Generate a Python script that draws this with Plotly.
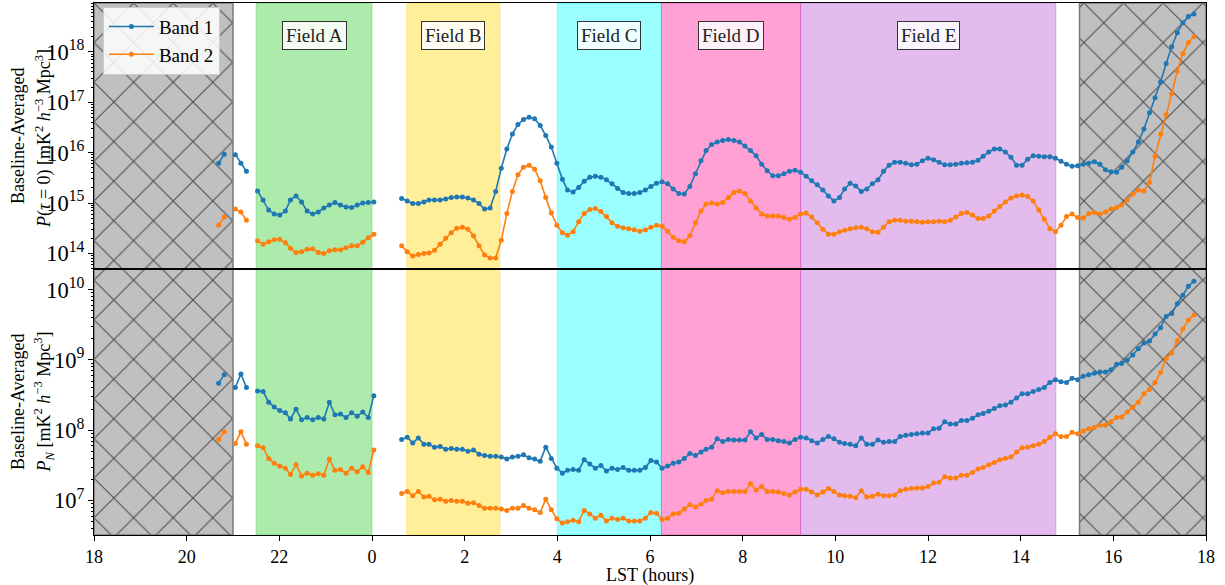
import plotly.graph_objects as go

# ---------------- data ----------------
# LST sample times in hours (wrapped 0-24)
lst_hours = [
    20.69, 20.81,
    21.05, 21.17, 21.29,
    21.53, 21.65, 21.77, 21.89, 22.01, 22.13, 22.24, 22.36, 22.48, 22.60, 22.72,
    22.84, 22.96, 23.08, 23.20, 23.32, 23.44, 23.56, 23.68, 23.80, 23.92, 0.04,
    0.64, 0.76, 0.88, 1.00, 1.12, 1.23, 1.35, 1.47, 1.59, 1.71, 1.83, 1.95, 2.07,
    2.19, 2.31, 2.43, 2.55, 2.67, 2.79, 2.91, 3.03, 3.15, 3.27, 3.39, 3.51, 3.63,
    3.75, 3.87, 3.99, 4.11, 4.22, 4.34, 4.46, 4.58, 4.70, 4.82, 4.94, 5.06, 5.18,
    5.30, 5.42, 5.54, 5.66, 5.78, 5.90, 6.02, 6.14, 6.26, 6.38, 6.50, 6.62,
    6.74, 6.86, 6.98, 7.10, 7.21, 7.33, 7.45, 7.57, 7.69, 7.81, 7.93, 8.05, 8.17,
    8.29, 8.41, 8.53, 8.65, 8.77, 8.89, 9.01, 9.13, 9.25, 9.37, 9.49, 9.61, 9.73,
    9.85, 9.97, 10.09, 10.20, 10.32, 10.44, 10.56, 10.68, 10.80, 10.92, 11.04,
    11.16, 11.28, 11.40, 11.52, 11.64, 11.76, 11.88, 12.00, 12.12, 12.24,
    12.36, 12.48, 12.60, 12.72, 12.84, 12.96, 13.08, 13.19, 13.31, 13.43, 13.55,
    13.67, 13.79, 13.91, 14.03, 14.15, 14.27, 14.39, 14.51, 14.63, 14.75, 14.87,
    14.99, 15.11, 15.23, 15.35, 15.47, 15.59, 15.71, 15.83, 15.95, 16.07, 16.18,
    16.30, 16.42, 16.54, 16.66, 16.78, 16.90, 17.02, 17.14, 17.26, 17.38, 17.50,
    17.62, 17.74,
]

# log10 of baseline-averaged P(tau=0)  [mK^2 h^-3 Mpc^3]
band1_ptau0_log10 = [
    15.79, 15.97,
    15.96, 15.79, 15.63,
    15.24, 15.06, 14.86, 14.78, 14.76, 14.84, 15.06, 15.14, 15.02, 14.84, 14.78,
    14.82, 14.90, 14.96, 15.01, 14.96, 14.92, 14.91, 14.96, 15.00, 15.01, 15.02,
    15.09, 15.04, 14.99, 14.99, 15.02, 15.06, 15.06, 15.06, 15.08, 15.11, 15.12,
    15.12, 15.10, 15.06, 14.99, 14.88, 14.90, 15.23, 15.69, 16.07, 16.37, 16.56,
    16.66, 16.70, 16.67, 16.54, 16.34, 16.11, 15.79, 15.47, 15.26, 15.22, 15.31,
    15.43, 15.51, 15.53, 15.51, 15.46, 15.38, 15.29, 15.21, 15.19, 15.19, 15.21,
    15.26, 15.33, 15.39, 15.42, 15.38, 15.28, 15.19,
    15.18, 15.33, 15.58, 15.84, 16.04, 16.16, 16.21, 16.24, 16.26, 16.24, 16.21,
    16.13, 16.04, 15.94, 15.77, 15.64, 15.54, 15.54, 15.58, 15.63, 15.65, 15.61,
    15.53, 15.44, 15.36, 15.26, 15.14, 15.04, 15.11, 15.28, 15.39, 15.34, 15.23,
    15.28, 15.38, 15.46, 15.63, 15.75, 15.81, 15.81, 15.79, 15.76, 15.77, 15.84,
    15.89, 15.86, 15.81,
    15.76, 15.76, 15.77, 15.79, 15.80, 15.81, 15.85, 15.93, 16.01, 16.07, 16.07,
    16.01, 15.91, 15.75, 15.75, 15.87, 15.94, 15.93, 15.92, 15.92, 15.89, 15.83,
    15.77, 15.73, 15.74, 15.77, 15.79, 15.82, 15.77, 15.66, 15.62, 15.61, 15.71,
    15.84, 16.01, 16.21, 16.47, 16.79, 17.09, 17.40, 17.77, 18.10, 18.38, 18.58,
    18.70, 18.75,
]
band2_ptau0_log10 = [
    14.56, 14.72,
    14.88, 14.82, 14.66,
    14.25, 14.18, 14.23, 14.27, 14.28, 14.21, 14.10, 14.02, 14.03, 14.08, 14.09,
    14.02, 14.00, 14.05, 14.07, 14.07, 14.11, 14.15, 14.15, 14.22, 14.31, 14.38,
    14.15, 14.03, 13.95, 13.98, 14.00, 14.01, 14.06, 14.18, 14.30, 14.41, 14.50,
    14.52, 14.48, 14.35, 14.15, 13.97, 13.91, 13.91, 14.26, 14.79, 15.23, 15.56,
    15.71, 15.75, 15.67, 15.44, 15.11, 14.80, 14.56, 14.41, 14.36, 14.43, 14.63,
    14.79, 14.87, 14.89, 14.83, 14.73, 14.61, 14.54, 14.51, 14.49, 14.47, 14.44,
    14.47, 14.52, 14.56, 14.54, 14.44, 14.32, 14.25,
    14.23, 14.35, 14.61, 14.84, 14.98, 15.00, 14.98, 15.01, 15.11, 15.21, 15.24,
    15.19, 15.04, 14.90, 14.78, 14.74, 14.74, 14.74, 14.71, 14.68, 14.71, 14.78,
    14.80, 14.72, 14.61, 14.48, 14.38, 14.38, 14.43, 14.46, 14.49, 14.51, 14.52,
    14.49, 14.43, 14.42, 14.52, 14.63, 14.66, 14.66, 14.64, 14.64, 14.63, 14.62,
    14.63, 14.63, 14.64,
    14.63, 14.66, 14.72, 14.79, 14.81, 14.76, 14.69, 14.69, 14.74, 14.84, 14.93,
    15.02, 15.10, 15.14, 15.16, 15.13, 15.04, 14.86, 14.68, 14.49, 14.43, 14.56,
    14.73, 14.78, 14.71, 14.70, 14.79, 14.81, 14.78, 14.82, 14.88, 14.91, 14.96,
    15.06, 15.18, 15.26, 15.24, 15.41, 15.93, 16.37, 16.75, 17.17, 17.62, 17.97,
    18.18, 18.30,
]

# log10 of baseline-averaged noise power P_N  [mK^2 h^-3 Mpc^3]
band1_pn_log10 = [
    8.67, 8.79,
    8.61, 8.80, 8.61,
    8.56, 8.55, 8.40, 8.33, 8.28, 8.25, 8.16, 8.30, 8.15, 8.18, 8.15,
    8.18, 8.16, 8.40, 8.22, 8.23, 8.18, 8.25, 8.20, 8.26, 8.18, 8.49,
    7.87, 7.90, 7.82, 7.89, 7.80, 7.80, 7.76, 7.77, 7.73, 7.74, 7.73,
    7.73, 7.70, 7.72, 7.66, 7.64, 7.63, 7.63, 7.62, 7.59, 7.62, 7.63,
    7.65, 7.61, 7.59, 7.56, 7.76, 7.60, 7.46, 7.39, 7.43, 7.44, 7.43,
    7.58, 7.52, 7.46, 7.50, 7.42, 7.46, 7.44, 7.47, 7.43, 7.43, 7.43,
    7.47, 7.57, 7.55, 7.46, 7.49, 7.53, 7.55,
    7.60, 7.67, 7.64, 7.69, 7.73, 7.76, 7.88, 7.84, 7.87, 7.86, 7.86,
    7.86, 7.98, 7.89, 7.94, 7.87, 7.87, 7.85, 7.84, 7.82, 7.87, 7.90,
    7.89, 7.85, 7.82, 7.87, 7.91, 7.88, 7.83, 7.81, 7.80, 7.78, 7.89,
    7.80, 7.80, 7.86, 7.83, 7.84, 7.84, 7.91, 7.93, 7.94, 7.95, 7.96,
    7.96, 8.02, 8.03,
    8.12, 8.09, 8.09, 8.14, 8.14, 8.17, 8.22, 8.24, 8.27, 8.31, 8.35,
    8.36, 8.40, 8.46, 8.52, 8.52, 8.55, 8.58, 8.61, 8.68, 8.72, 8.69,
    8.68, 8.74, 8.72, 8.77, 8.79, 8.81, 8.83, 8.83, 8.86, 8.94, 8.95,
    9.00, 9.07, 9.16, 9.24, 9.27, 9.37, 9.46, 9.62, 9.66, 9.80, 9.92,
    10.05, 10.12,
]
band2_pn_log10 = [
    7.87, 7.98,
    7.81, 7.98, 7.80,
    7.78, 7.75, 7.60, 7.53, 7.49, 7.46, 7.37, 7.51, 7.35, 7.39, 7.36,
    7.38, 7.36, 7.59, 7.43, 7.44, 7.39, 7.46, 7.41, 7.48, 7.40, 7.72,
    7.10, 7.13, 7.07, 7.13, 7.05, 7.06, 7.01, 7.02, 6.99, 7.00, 6.99,
    6.99, 6.96, 6.97, 6.93, 6.89, 6.89, 6.89, 6.88, 6.86, 6.89, 6.89,
    6.93, 6.89, 6.87, 6.83, 7.02, 6.87, 6.74, 6.68, 6.70, 6.72, 6.70,
    6.86, 6.81, 6.75, 6.79, 6.71, 6.75, 6.73, 6.75, 6.71, 6.71, 6.71,
    6.75, 6.83, 6.82, 6.73, 6.75, 6.81, 6.82,
    6.88, 6.94, 6.91, 6.95, 7.00, 7.02, 7.14, 7.11, 7.13, 7.13, 7.13,
    7.13, 7.24, 7.15, 7.20, 7.13, 7.13, 7.12, 7.10, 7.08, 7.12, 7.16,
    7.16, 7.12, 7.08, 7.12, 7.17, 7.13, 7.08, 7.07, 7.06, 7.04, 7.14,
    7.05, 7.06, 7.09, 7.07, 7.07, 7.08, 7.14, 7.16, 7.17, 7.18, 7.18,
    7.20, 7.25, 7.26,
    7.34, 7.32, 7.32, 7.36, 7.36, 7.40, 7.45, 7.47, 7.51, 7.54, 7.58,
    7.60, 7.62, 7.69, 7.75, 7.76, 7.78, 7.80, 7.84, 7.90, 7.95, 7.91,
    7.91, 7.97, 7.95, 7.99, 8.02, 8.04, 8.07, 8.07, 8.12, 8.18, 8.19,
    8.26, 8.33, 8.40, 8.52, 8.58, 8.68, 8.82, 9.02, 9.10, 9.27, 9.44,
    9.57, 9.64,
]

# field LST ranges (hours) and the excluded (hatched) LST ranges
field_names = ["Field A", "Field B", "Field C", "Field D", "Field E"]
field_start = [21.5, 0.75, 4.0, 6.245, 9.25]
field_end = [0.0, 2.76, 6.245, 9.25, 14.76]
excluded_start = [18.0, 15.27]
excluded_end = [21.0, 18.0]

x_tick_hours = [18, 20, 22, 0, 2, 4, 6, 8, 10, 12, 14, 16, 18]

# ---------------- styling ----------------
FONT = "Liberation Serif"
BLUE = "#1f77b4"
ORANGE = "#ff7f0e"
field_colors = ["rgba(50,205,50,0.4)", "rgba(255,215,0,0.4)", "rgba(0,255,255,0.4)",
                "rgba(255,20,147,0.4)", "rgba(186,85,211,0.4)"]
X0 = 18.0


def unwrap(h):
    return h + 24.0 if h < X0 else h


def unwrap_range(a, b):
    a2 = unwrap(a)
    b2 = unwrap(b)
    if b2 <= a2:
        b2 += 24.0
    return a2, b2


lst_ext = [unwrap(h) for h in lst_hours]


def with_gaps(xv, yv):
    xs, ys = [], []
    for i, (a, b) in enumerate(zip(xv, yv)):
        if i > 0 and a - xv[i - 1] > 0.2:
            xs.append(None)
            ys.append(None)
        xs.append(a)
        ys.append(10 ** b)
    return xs, ys


fig = go.Figure()

# background shading (its own full-height subplot, drawn beneath the data)
for name, s, e, c in zip(field_names, field_start, field_end, field_colors):
    a, b = unwrap_range(s, e)
    fig.add_trace(go.Scatter(x=[a, b, b, a, a], y=[0, 0, 1, 1, 0], xaxis="x", yaxis="y",
                             mode="lines", fill="toself", fillcolor=c,
                             line=dict(color=c, width=1), hoverinfo="skip", showlegend=False))
for s, e in zip(excluded_start, excluded_end):
    a, b = unwrap_range(s, e)
    fig.add_trace(go.Scatter(x=[a, b, b, a, a], y=[0, 0, 1, 1, 0], xaxis="x", yaxis="y",
                             mode="lines", fill="toself", fillcolor="#c0c0c0",
                             fillpattern=dict(shape="x", size=28, solidity=0.07,
                                              fgcolor="#4a4a4a", bgcolor="#c0c0c0",
                                              fillmode="replace"),
                             line=dict(color="#7a7a7a", width=1.5),
                             hoverinfo="skip", showlegend=False))

# data
series = [
    (band1_ptau0_log10, "Band 1", BLUE, "x2", "y2", True),
    (band2_ptau0_log10, "Band 2", ORANGE, "x2", "y2", True),
    (band1_pn_log10, "Band 1", BLUE, "x3", "y3", False),
    (band2_pn_log10, "Band 2", ORANGE, "x3", "y3", False),
]
for vals, name, col, xa, ya, leg in series:
    xs, ys = with_gaps(lst_ext, vals)
    fig.add_trace(go.Scatter(x=xs, y=ys, xaxis=xa, yaxis=ya, mode="lines+markers",
                             name=name, showlegend=leg, connectgaps=False,
                             line=dict(color=col, width=1.6),
                             marker=dict(color=col, size=5)))

tickvals = [X0 + i * 2 for i in range(len(x_tick_hours))]
ticktext = [str(h) for h in x_tick_hours]

axis_common = dict(showline=True, linecolor="black", linewidth=1, mirror=True,
                   showgrid=False, zeroline=False, automargin=False)
tickfont = dict(family=FONT, size=18, color="black")

fig.update_layout(
    width=1225, height=585,
    margin=dict(l=94, r=19, t=3, b=50, autoexpand=False),
    paper_bgcolor="white", plot_bgcolor="rgba(0,0,0,0)",
    font=dict(family=FONT, size=17, color="black"),
    hovermode=False,
    xaxis=dict(domain=[0, 1], range=[18, 42], visible=False, anchor="y", fixedrange=True),
    yaxis=dict(domain=[0, 1], range=[0, 1], visible=False, anchor="x", fixedrange=True),
    xaxis2=dict(domain=[0, 1], range=[18, 42], anchor="y2", showticklabels=False,
                ticks="", tickvals=tickvals, **axis_common),
    yaxis2=dict(domain=[0.5, 1], type="log", range=[13.69, 18.97], anchor="x2",
                dtick=1, exponentformat="power", ticks="outside", ticklen=5,
                tickcolor="black", tickfont=tickfont,
                minor=dict(ticks="outside", ticklen=2.5, tickcolor="black", showgrid=False),
                **axis_common),
    xaxis3=dict(domain=[0, 1], range=[18, 42], anchor="y3", tickvals=tickvals,
                ticktext=ticktext, ticks="outside", ticklen=5, tickcolor="black",
                tickfont=tickfont, **axis_common),
    yaxis3=dict(domain=[0, 0.5], type="log", range=[6.51, 10.294], anchor="x3",
                dtick=1, exponentformat="power", ticks="outside", ticklen=5,
                tickcolor="black", tickfont=tickfont,
                minor=dict(ticks="outside", ticklen=2.5, tickcolor="black", showgrid=False),
                **axis_common),
    legend=dict(x=0.008, y=0.993, xanchor="left", yanchor="top",
                bgcolor="rgba(255,255,255,0.85)", bordercolor="#cccccc", borderwidth=1,
                font=dict(family=FONT, size=19, color="black"), itemwidth=45,
                tracegroupgap=0),
)

# field labels
for name, s, e in zip(field_names, field_start, field_end):
    a, b = unwrap_range(s, e)
    fig.add_annotation(x=(a + b) / 2, y=0.938, xref="x2", yref="paper", text=name,
                       showarrow=False, font=dict(family=FONT, size=19, color="#222222"),
                       bgcolor="rgba(255,255,255,0.85)", bordercolor="#333333",
                       borderwidth=1, borderpad=3, xanchor="center", yanchor="middle")

# axis titles
ylab_units = " [mK<sup>2</sup> <i>h</i><sup>−3</sup> Mpc<sup>3</sup>]"
titles = [
    (-0.0683, 0.75, "Baseline-Averaged"),
    (-0.0455, 0.745, "<i>P</i>(<i>τ</i> = 0)" + ylab_units),
    (-0.0683, 0.25, "Baseline-Averaged"),
    (-0.0455, 0.25, "<i>P<sub>N</sub></i>" + ylab_units),
]
for xx, yy, txt in titles:
    fig.add_annotation(x=xx, y=yy, xref="paper", yref="paper", text=txt, textangle=-90,
                       showarrow=False, font=dict(family=FONT, size=18, color="black"),
                       xanchor="center", yanchor="middle")
fig.add_annotation(x=0.5, y=-0.0756, xref="paper", yref="paper", text="LST (hours)",
                   showarrow=False, font=dict(family=FONT, size=18, color="black"),
                   xanchor="center", yanchor="middle")

fig.write_html("out.html", config={"displayModeBar": False},
               post_script="document.body.style.margin='0px';"
                           "document.body.style.padding='0px';")
